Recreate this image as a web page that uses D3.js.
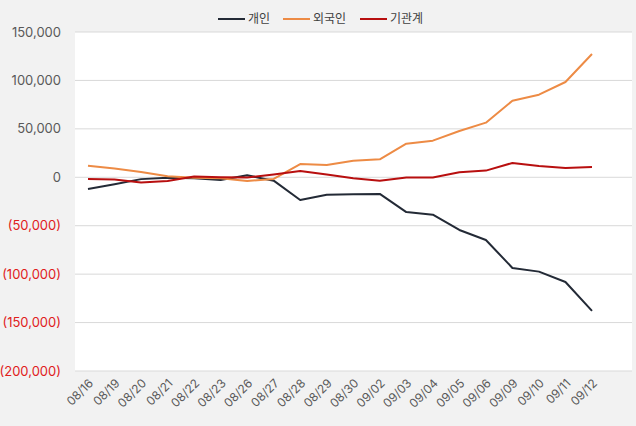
<html lang="ko">
<head>
<meta charset="utf-8">
<title>매매동향</title>
<script src="https://cdn.jsdelivr.net/npm/d3@7"></script>
<style>
  body { margin: 0; background: #f2f2f2; }
  svg text { font-family: Inter, "Noto Sans CJK KR", sans-serif; }
</style>
</head>
<body>
<script>
var w = 636, h = 426;

var dates = ["08/16","08/19","08/20","08/21","08/22","08/23","08/26","08/27","08/28","08/29",
             "08/30","09/02","09/03","09/04","09/05","09/06","09/09","09/10","09/11","09/12"];
var individual = [-12100, -7200, -1900, -500, -1000, -2800, 2000, -3500, -23400, -18000,
                  -17600, -17200, -35900, -38600, -54400, -64700, -93600, -97400, -108100, -138000];
var foreign = [12000, 9000, 5500, 1000, -500, -1000, -3800, -1700, 13700, 12700,
               17100, 18600, 34700, 37800, 47800, 56400, 79100, 85300, 98400, 127300];
var institution = [-1800, -2400, -5500, -3800, 700, 0, -300, 2800, 6500, 2800,
                   -1000, -3500, -300, -300, 5100, 6900, 14800, 11700, 9600, 10600];
var yTicks = [150000, 100000, 50000, 0, -50000, -100000, -150000, -200000];

var series = [
  {name: "개인", values: individual, color: "#232a36"},
  {name: "외국인", values: foreign, color: "#ed8b45"},
  {name: "기관계", values: institution, color: "#b80f0f"}
];

var svg = d3.select("body").append("svg")
  .attr("width", w).attr("height", h);

var plotL = 75, plotR = 632, plotT = 32, plotB = 371;

svg.append("rect")
  .attr("x", plotL).attr("y", plotT)
  .attr("width", plotR - plotL).attr("height", plotB - plotT)
  .attr("fill", "#ffffff");

var x = d3.scalePoint().domain(dates).range([88, 592]);
var y = d3.scaleLinear().domain([-200000, 150000]).range([plotB, plotT]);

// gridlines
svg.selectAll("line.grid")
  .data(yTicks)
  .enter()
  .append("line")
  .attr("class", "grid")
  .attr("x1", plotL).attr("x2", plotR)
  .attr("y1", function(d){ return y(d); })
  .attr("y2", function(d){ return y(d); })
  .attr("stroke", "#d9d9d9")
  .attr("stroke-width", 1);

// y labels
var fmt = d3.format(",");
svg.selectAll("text.ylab")
  .data(yTicks)
  .enter()
  .append("text")
  .attr("class", "ylab")
  .attr("x", 61)
  .attr("y", function(d){ return y(d); })
  .attr("dy", "0.35em")
  .attr("text-anchor", "end")
  .attr("font-size", 13)
  .attr("fill", function(d){ return d < 0 ? "#e0201c" : "#595959"; })
  .text(function(d){ return d < 0 ? "(" + fmt(-d) + ")" : fmt(d); });

// x labels
svg.selectAll("text.xlab")
  .data(dates)
  .enter()
  .append("text")
  .attr("class", "xlab")
  .attr("text-anchor", "end")
  .attr("font-size", 12)
  .attr("fill", "#595959")
  .attr("transform", function(d){ return "translate(" + (x(d) + 6) + ",384) rotate(-45)"; })
  .text(function(d){ return d; });

// lines
var line = d3.line()
  .x(function(d, i){ return x(dates[i]); })
  .y(function(d){ return y(d); });

svg.selectAll("path.series")
  .data(series)
  .enter()
  .append("path")
  .attr("class", "series")
  .attr("fill", "none")
  .attr("stroke", function(d){ return d.color; })
  .attr("stroke-width", 2)
  .attr("stroke-linejoin", "round")
  .attr("d", function(d){ return line(d.values); });

// legend
var legX = [218, 283, 360];
var leg = svg.selectAll("g.leg")
  .data(series)
  .enter()
  .append("g")
  .attr("class", "leg")
  .attr("transform", function(d, i){ return "translate(" + legX[i] + ",19)"; });
leg.append("line")
  .attr("x1", 0).attr("x2", 27)
  .attr("stroke", function(d){ return d.color; })
  .attr("stroke-width", 2);
leg.append("text")
  .attr("x", 30)
  .attr("dy", "0.35em")
  .attr("font-size", 12)
  .attr("fill", "#404040")
  .style("font-family", "'Noto Sans CJK KR', sans-serif")
  .text(function(d){ return d.name; });
</script>
</body>
</html>
